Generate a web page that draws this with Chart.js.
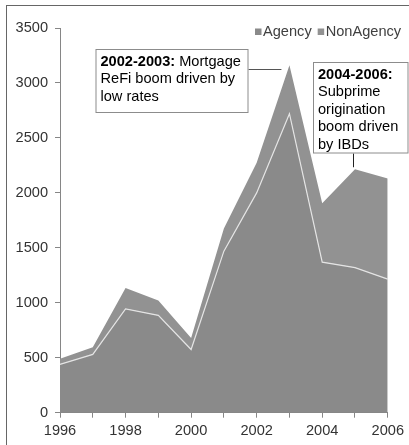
<!DOCTYPE html>
<html>
<head>
<meta charset="utf-8">
<script src="https://cdn.jsdelivr.net/npm/chart.js@4.4.1/dist/chart.umd.min.js"></script>
<style>
  html, body { margin: 0; padding: 0; background: #fff; }
  #wrap { position: relative; width: 409px; height: 445px; }
</style>
</head>
<body>
<div id="wrap"><canvas id="c" width="409" height="445"></canvas></div>
<script>
// Mortgage origination volume by segment ($bn), 1996–2006
const years = ['1996', '1997', '1998', '1999', '2000', '2001', '2002', '2003', '2004', '2005', '2006'];
const agency = [440, 530, 945, 885, 575, 1470, 2000, 2720, 1370, 1320, 1215];
const nonAgency = [50, 65, 190, 135, 105, 205, 275, 440, 535, 895, 915];
const yTickValues = [0, 500, 1000, 1500, 2000, 2500, 3000, 3500];
const seriesNames = ['Agency', 'NonAgency'];

// Callout texts: first line bold, remaining lines regular
const refiNote = [['2002-2003:', ' Mortgage'], ['', 'ReFi boom driven by'], ['', 'low rates']];
const subprimeNote = [['2004-2006:', ''], ['', 'Subprime'], ['', 'origination'], ['', 'boom driven'], ['', 'by IBDs']];

const FONT = '"Liberation Sans", Arial, sans-serif';
const FS = 14.6;
const AXIS = '#868686';
const FILL_AGENCY = '#8a8a8a';
const FILL_NONAGENCY = '#929292';

function drawNote(ctx, box, lines) {
  ctx.save();
  ctx.fillStyle = '#fff';
  ctx.fillRect(box.x, box.y, box.w, box.h);
  ctx.strokeStyle = '#8c8c8c';
  ctx.lineWidth = 1;
  ctx.strokeRect(box.x + 0.5, box.y + 0.5, box.w - 1, box.h - 1);
  ctx.fillStyle = '#000';
  ctx.textBaseline = 'middle';
  lines.forEach((ln, i) => {
    const y = box.y + 12.5 + i * 17.5;
    let x = box.x + 5;
    if (ln[0]) {
      ctx.font = 'bold ' + FS + 'px ' + FONT;
      ctx.fillText(ln[0], x, y);
      x += ctx.measureText(ln[0]).width;
    }
    if (ln[1]) {
      ctx.font = FS + 'px ' + FONT;
      ctx.fillText(ln[1], x, y);
    }
  });
  ctx.restore();
}

const decorations = {
  id: 'decorations',
  afterDraw(chart) {
    const ctx = chart.ctx;
    const xs = chart.scales.x, ys = chart.scales.y;
    ctx.save();

    // outer frame
    ctx.strokeStyle = '#666';
    ctx.lineWidth = 1;
    ctx.strokeRect(6.5, 5.5, 600, 600);

    // legend
    ctx.font = FS + 'px ' + FONT;
    ctx.textBaseline = 'middle';
    let lx = 255;
    chart.data.datasets.forEach(ds => {
      ctx.fillStyle = ds.backgroundColor;
      ctx.fillRect(lx, 28.5, 6.5, 6.5);
      ctx.fillStyle = '#404040';
      ctx.fillText(ds.label, lx + 8, 32);
      lx += 8 + ctx.measureText(ds.label).width + 6;
    });

    // connectors
    const peakX = xs.getPixelForValue(7);
    ctx.strokeStyle = '#555';
    ctx.beginPath();
    ctx.moveTo(248, 69.5);
    ctx.lineTo(peakX - 8, 69.5);
    ctx.stroke();

    const x05 = Math.round(xs.getPixelForValue(9)) - 1.5;
    const top05 = ys.getPixelForValue(agency[9] + nonAgency[9]);
    ctx.strokeStyle = '#222';
    ctx.beginPath();
    ctx.moveTo(x05, 153);
    ctx.lineTo(x05, top05 - 2);
    ctx.stroke();
    ctx.restore();

    drawNote(ctx, { x: 95.5, y: 49, w: 153, h: 64 }, refiNote);
    drawNote(ctx, { x: 313, y: 62, w: 95.5, h: 91.5 }, subprimeNote);
  }
};

new Chart(document.getElementById('c'), {
  type: 'line',
  data: {
    labels: years,
    datasets: [
      {
        label: seriesNames[0],
        data: agency,
        backgroundColor: FILL_AGENCY,
        borderColor: '#e4e4e4',
        borderWidth: 1.2,
        fill: 'origin',
        pointRadius: 0,
        tension: 0
      },
      {
        label: seriesNames[1],
        data: nonAgency,
        backgroundColor: FILL_NONAGENCY,
        borderColor: FILL_NONAGENCY,
        borderWidth: 0,
        fill: '-1',
        pointRadius: 0,
        tension: 0
      }
    ]
  },
  options: {
    responsive: false,
    animation: false,
    devicePixelRatio: 1,
    layout: { padding: { left: 0, top: 28, right: 16.3, bottom: 0 } },
    plugins: {
      legend: { display: false },
      tooltip: { enabled: false }
    },
    scales: {
      x: {
        type: 'category',
        offset: false,
        grid: { display: true, drawOnChartArea: false, drawTicks: true, tickLength: 5, color: AXIS },
        border: { display: true, color: AXIS },
        ticks: {
          autoSkip: false,
          maxRotation: 0,
          padding: 5,
          color: '#333',
          font: { family: FONT, size: FS },
          callback: (v, i) => (i % 2 === 0 ? years[i] : '')
        },
        afterFit: s => { s.height = 32.3; }
      },
      y: {
        stacked: true,
        min: yTickValues[0],
        max: yTickValues[yTickValues.length - 1],
        afterBuildTicks: s => { s.ticks = yTickValues.map(v => ({ value: v })); },
        grid: { display: true, drawOnChartArea: false, drawTicks: true, tickLength: 5, color: AXIS },
        border: { display: true, color: AXIS },
        ticks: {
          padding: 7,
          color: '#333',
          font: { family: FONT, size: FS },
          callback: v => String(v)
        },
        afterFit: s => { s.width = 60; }
      }
    }
  },
  plugins: [decorations]
});
</script>
</body>
</html>
